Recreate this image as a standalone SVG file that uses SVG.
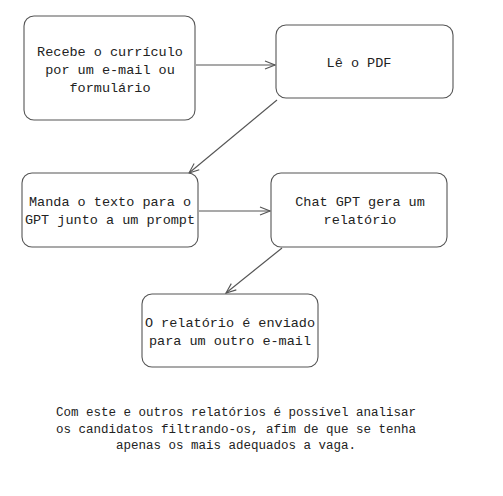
<svg xmlns="http://www.w3.org/2000/svg" width="503" height="496" viewBox="0 0 503 496">
<style>
.box{fill:#fff;stroke:#555;stroke-width:1.1}
.t{font-family:"Liberation Mono","DejaVu Sans Mono",monospace;font-size:13.5px;fill:#222;text-anchor:middle}
.n{font-family:"Liberation Mono","DejaVu Sans Mono",monospace;font-size:12.5px;fill:#222;text-anchor:middle}
.c{stroke:#555;stroke-width:1.1;fill:none;marker-end:url(#ah)}
</style>
<defs>
<marker id="ah" viewBox="0 0 12 12" refX="11" refY="6" markerWidth="12" markerHeight="12" markerUnits="userSpaceOnUse" orient="auto">
<path d="M1,2 L11,6 L1,10" fill="none" stroke="#555" stroke-width="1.1"/>
</marker>
</defs>
<rect width="503" height="496" fill="#fff"/>
<g id="connectors">
<line class="c" x1="196" y1="65" x2="275" y2="65"/>
<line class="c" x1="277" y1="100" x2="189" y2="173"/>
<line class="c" x1="199" y1="211" x2="270" y2="211"/>
<line class="c" x1="282" y1="248" x2="226" y2="293"/>
</g>
<g id="n1">
<rect class="box" x="24" y="16" width="171" height="104" rx="10"/>
<text class="t" x="110" y="56">Recebe o currículo</text>
<text class="t" x="110" y="74">por um e-mail ou</text>
<text class="t" x="110" y="92">formulário</text>
</g>
<g id="n2">
<rect class="box" x="276" y="25" width="177" height="73" rx="10"/>
<text class="t" x="359" y="67">Lê o PDF</text>
</g>
<g id="n3">
<rect class="box" x="22" y="173" width="176" height="74" rx="10"/>
<text class="t" x="110" y="206">Manda o texto para o</text>
<text class="t" x="110" y="224">GPT junto a um prompt</text>
</g>
<g id="n4">
<rect class="box" x="271" y="173" width="176" height="74" rx="10"/>
<text class="t" x="360" y="206">Chat GPT gera um</text>
<text class="t" x="360" y="224">relatório</text>
</g>
<g id="n5">
<rect class="box" x="142" y="294" width="176" height="73" rx="10"/>
<text class="t" x="230" y="327">O relatório é enviado</text>
<text class="t" x="230" y="345">para um outro e-mail</text>
</g>
<g id="note">
<text class="n" x="236" y="416">Com este e outros relatórios é possível analisar</text>
<text class="n" x="236" y="433">os candidatos filtrando-os, afim de que se tenha</text>
<text class="n" x="236" y="449">apenas os mais adequados a vaga.</text>
</g>
</svg>
